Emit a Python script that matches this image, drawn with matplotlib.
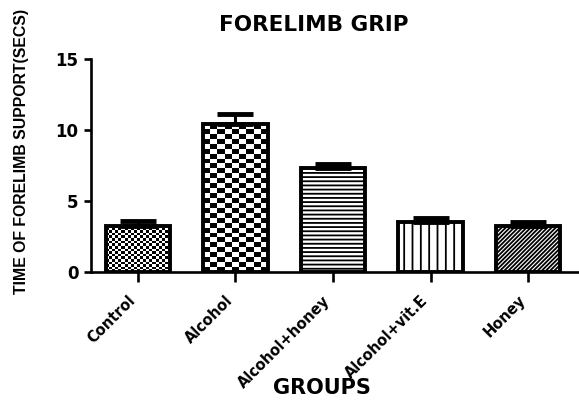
import numpy as np
import matplotlib
matplotlib.use("Agg")
import matplotlib.pyplot as plt

plt.rcParams['font.family'] = ['DejaVu Sans']
plt.rcParams['font.weight'] = 'bold'
plt.rcParams['hatch.linewidth'] = 1.3

# Data
groups = ["Control", "Alcohol", "Alcohol+honey", "Alcohol+vit.E", "Honey"]
means = [3.25, 10.4, 7.3, 3.5, 3.25]
sem = [0.35, 0.7, 0.3, 0.3, 0.25]
y_ticks = [0, 5, 10, 15]

# Fill style per group: ('checker', cell_w_px, cell_h_px) or ('hatch', pattern)
fills = [("checker", 3, 2.5), ("checker", 7, 5), ("hatch", "----"),
         ("hatch", "||"), ("hatch", "////////")]

fig = plt.figure(figsize=(5.79, 4.0), dpi=100)
ax = fig.add_axes([91 / 579, 1 - 272 / 400, 1 - 91 / 579, (272 - 59) / 400])

x = np.arange(len(groups))
bars = []
for i, (xi, m) in enumerate(zip(x, means)):
    kind = fills[i]
    hatch = kind[1] if kind[0] == "hatch" else None
    b = ax.bar(xi, m, width=0.66, facecolor="none" if hatch is None else "white",
               edgecolor="black", linewidth=2.8, hatch=hatch, zorder=2)
    bars.append(b[0])

ax.errorbar(x, means, yerr=[np.zeros(len(sem)), sem], fmt="none", ecolor="black",
            elinewidth=2.2, capsize=13, capthick=3.5, zorder=3)

ax.set_xlim(-0.48, 4.52)
ax.set_ylim(0, 15)
ax.autoscale(False)
ax.set_yticks(y_ticks)
ax.set_yticklabels([str(v) for v in y_ticks], fontsize=12, fontweight="bold")
ax.set_xticks(x)
ax.set_xticklabels(groups, rotation=45, ha="right", fontsize=10.5, fontweight="bold")

for s in ["top", "right"]:
    ax.spines[s].set_visible(False)
for s in ["left", "bottom"]:
    ax.spines[s].set_linewidth(1.9)
ax.tick_params(axis="y", length=5, width=1.9, pad=4)
ax.tick_params(axis="x", length=7, width=1.9, pad=8)

fig.text(22 / 579, 1 - 151 / 400, "TIME OF FORELIMB SUPPORT(SECS)", rotation=90,
         ha="center", va="center", fontsize=11.4, fontweight="bold",
         family="Liberation Sans")
fig.text(322 / 579, 1 - 388 / 400, "GROUPS", ha="center", va="center",
         fontsize=15, fontweight="bold")
fig.text(314 / 579, 1 - 25 / 400, "FORELIMB GRIP", ha="center", va="center",
         fontsize=15.5, fontweight="bold")

# Checkerboard fills, sized in screen pixels
fig.canvas.draw()
boxes = [(bar, kind, bar.get_window_extent()) for bar, kind in zip(bars, fills)]
for bar, kind, bb in boxes:
    if kind[0] != "checker":
        continue
    cw, ch = kind[1], kind[2]
    nx = max(1, int(round(bb.width / cw)))
    ny = max(1, int(round(bb.height / ch)))
    iy, ix = np.indices((ny, nx))
    board = ((ix + iy) % 2).astype(float)
    x0 = bar.get_x()
    y0 = bar.get_y()
    im = ax.imshow(board, cmap="gray", vmin=0, vmax=1, interpolation="nearest",
                   extent=(x0, x0 + bar.get_width(), y0, y0 + bar.get_height()),
                   origin="lower", aspect="auto", zorder=1)
    im.set_clip_path(bar)

ax.set_xlim(-0.48, 4.52)
ax.set_ylim(0, 15)

fig.savefig("out.png", dpi=100)
